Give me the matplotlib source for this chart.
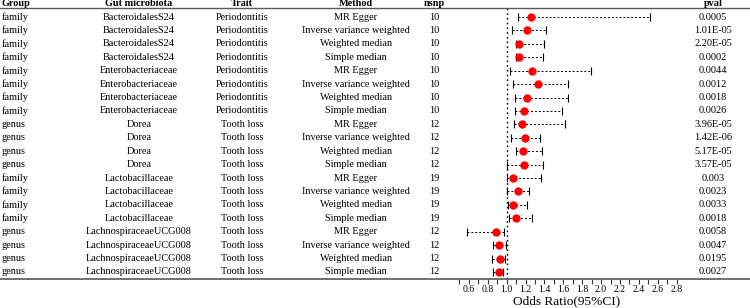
import matplotlib
matplotlib.use("Agg")
import matplotlib.pyplot as plt
import numpy as np

plt.rcParams['font.family'] = ['Liberation Serif', 'DejaVu Serif']

groups = ["family"] * 8 + ["genus"] * 4 + ["family"] * 4 + ["genus"] * 4
microbiota = (["BacteroidalesS24"] * 4 + ["Enterobacteriaceae"] * 4 + ["Dorea"] * 4
              + ["Lactobacillaceae"] * 4 + ["LachnospiraceaeUCG008"] * 4)
traits = ["Periodontitis"] * 8 + ["Tooth loss"] * 12
methods = ["MR Egger", "Inverse variance weighted", "Weighted median", "Simple median"] * 5
nsnp = [10] * 8 + [12] * 4 + [19] * 4 + [12] * 4
pvals = ["0.0005", "1.01E-05", "2.20E-05", "0.0002",
         "0.0044", "0.0012", "0.0018", "0.0026",
         "3.96E-05", "1.42E-06", "5.17E-05", "3.57E-05",
         "0.003", "0.0023", "0.0033", "0.0018",
         "0.0058", "0.0047", "0.0195", "0.0027"]
odds = [1.26, 1.22, 1.13, 1.13, 1.27, 1.33, 1.22, 1.18, 1.16, 1.19,
        1.17, 1.18, 1.07, 1.12, 1.07, 1.10, 0.89, 0.92, 0.93, 0.92]
lower = [1.12, 1.06, 1.10, 1.10, 1.03, 1.07, 1.09, 1.09, 1.08, 1.05,
         1.10, 1.00, 1.00, 1.00, 1.01, 1.02, 0.58, 0.86, 0.84, 0.86]
upper = [2.52, 1.42, 1.39, 1.38, 1.89, 1.65, 1.65, 1.59, 1.62, 1.35,
         1.37, 1.38, 1.36, 1.24, 1.21, 1.27, 0.97, 0.99, 0.98, 0.96]
headers = ["Group", "Gut microbiota", "Trait", "Method", "nsnp", "pval"]
xticks = [0.5, 0.6, 0.7, 0.8, 0.9, 1.0, 1.1, 1.2, 1.3, 1.4, 1.5, 1.6, 1.7, 1.8,
          1.9, 2.0, 2.1, 2.2, 2.3, 2.4, 2.5, 2.6, 2.7, 2.8]
xticklabels = ["" if i % 2 == 0 else f"{v:.1f}" for i, v in enumerate(xticks)]

W, H = 750, 308
fig = plt.figure(figsize=(W / 100, H / 100), dpi=100)
ax = fig.add_axes([0, 0, 1, 1])

# x mapping: 1.0 at 506.7 px, 0.1 per 9.44 px
px_per_unit = 94.4
x0 = 1 - 506.7 / px_per_unit
x1 = 1 + (W - 506.7) / px_per_unit
ax.set_xlim(x0, x1)
ax.set_ylim(H, 0)

n = len(odds)
row_y = 17 + np.arange(n) * 13.42

def fx(px):
    return x0 + px / W * (x1 - x0)

fs = 7.4
col_x = [2, 139, 242, 356, 434, 713]
col_ha = ["left", "center", "center", "center", "center", "center"]
for cx, ha, h in zip(col_x, col_ha, headers):
    ax.text(fx(cx), 6.3, h, ha=ha, va="baseline", fontsize=fs, fontweight="bold")

for i in range(n):
    y = row_y[i]
    vals = [groups[i], microbiota[i], traits[i], methods[i], str(nsnp[i]), pvals[i]]
    for cx, ha, v in zip(col_x, col_ha, vals):
        ax.text(fx(cx), y, v, ha=ha, va="center", fontsize=fs)

# header rule
ax.axhline(7.6, color="0.35", lw=1.0)

# reference line
ax.vlines(1.0, 8, 279, colors="black", linestyles=(0, (1.2, 2.2)), lw=1.0, zorder=1)

# error bars
odds_a = np.array(odds)
err = [odds_a - np.array(lower), np.array(upper) - odds_a]
eb = ax.errorbar(odds_a, row_y, xerr=err, fmt="none", ecolor="black",
                 elinewidth=0.7, capsize=2.8, capthick=0.8, zorder=2)
for lc in eb[2]:
    lc.set_linestyle((0, (2, 2)))
ax.plot(odds_a, row_y, "o", color="#ff0000", markersize=6, markeredgewidth=0, zorder=3)

# axis
for s in ["top", "left", "right"]:
    ax.spines[s].set_visible(False)
ax.spines["bottom"].set_position(("data", 279))
ax.spines["bottom"].set_color("0.35")
ax.spines["bottom"].set_linewidth(1.2)
ax.yaxis.set_visible(False)
ax.set_xticks(xticks)
ax.set_xticklabels(xticklabels, fontsize=7)
ax.tick_params(axis="x", direction="out", length=3.5, width=0.8, color="0.2", pad=1)
ax.text(1.63, 301, "Odds Ratio(95%CI)", ha="center", va="center", fontsize=9.6)

fig.savefig("out.png", dpi=100)
